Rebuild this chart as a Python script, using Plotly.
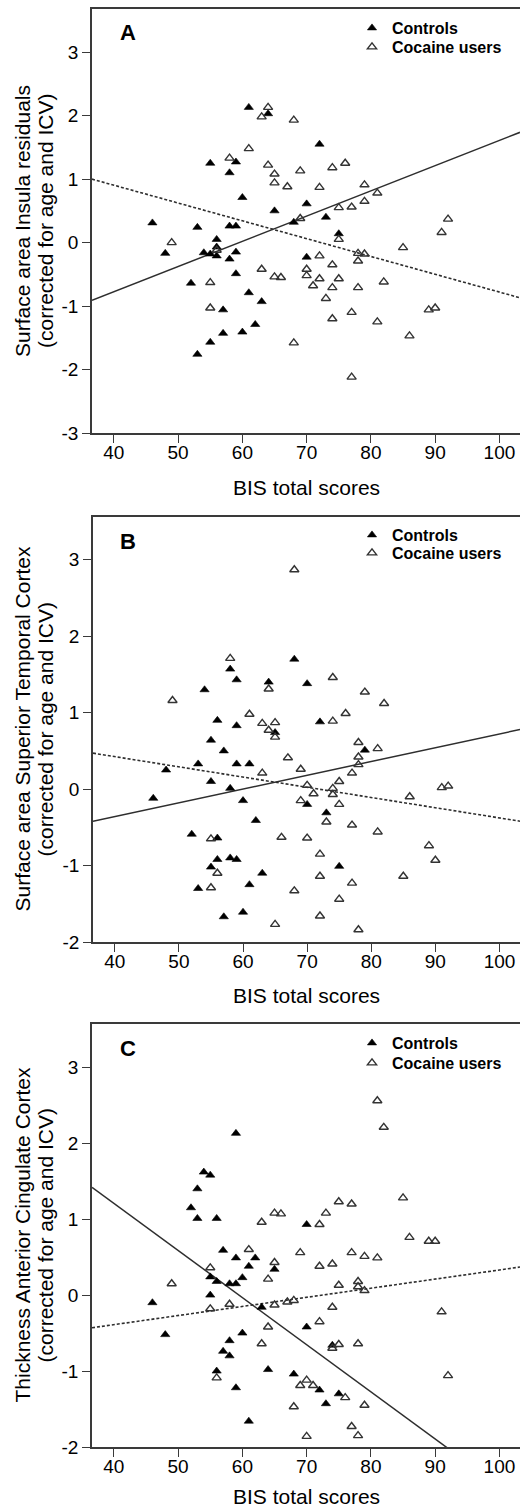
import plotly.graph_objects as go
import numpy as np

W, H = 520, 1510

# ---------------- data ----------------
# Panel A: Surface area Insula residuals
A_ctrl_x = [46, 48, 52, 53, 53, 54, 55, 55, 55, 56, 56, 56, 57, 57, 58, 58, 58, 59, 59, 59, 59,
            60, 60, 61, 61, 62, 63, 64, 65, 68, 70, 70, 72, 73, 75]
A_ctrl_y = [0.31, -0.17, -0.64, 0.24, -1.76, -0.16, 1.25, -0.18, -1.57, 0.05, -0.07, -0.21, -1.06,
            -1.43, 1.10, 0.26, -0.26, 1.27, 0.26, -0.15, -0.49, 0.71, -1.41, 2.13, -0.79, -1.29,
            -0.93, 2.03, 0.50, 0.32, 0.61, -0.23, 1.55, 0.40, 0.14]
A_coc_x = [49, 55, 55, 56, 58, 61, 63, 63, 64, 64, 65, 65, 65, 66, 67, 68, 68, 69, 69, 70, 70, 71,
           72, 72, 72, 73, 74, 74, 74, 74, 75, 75, 75, 76, 77, 77, 77, 78, 78, 78, 79, 79, 79, 81,
           81, 82, 85, 86, 89, 90, 91, 92]
A_coc_y = [0.00, -0.63, -1.03, -0.12, 1.33, 1.48, 1.98, -0.42, 2.13, 1.22, 1.08, 0.94, -0.54, -0.55,
           0.88, 1.93, -1.58, 1.13, 0.38, -0.42, -0.52, -0.68, 0.87, -0.21, -0.57, -0.88, 1.18,
           -0.35, -0.71, -1.20, 0.55, 0.05, -0.57, 1.25, 0.56, -1.10, -2.12, -0.17, -0.29, -0.71,
           0.91, 0.65, -0.18, 0.78, -1.25, -0.62, -0.08, -1.47, -1.06, -1.03, 0.16, 0.37]

# Panel B: Surface area Superior Temporal Cortex
B_ctrl_x = [46, 48, 52, 53, 53, 54, 55, 55, 55, 56, 56, 56, 57, 57, 58, 58, 58, 59, 59, 59, 59,
            60, 60, 61, 61, 62, 63, 64, 65, 68, 70, 70, 72, 73, 75, 79]
B_ctrl_y = [-0.12, 0.25, -0.59, 0.33, -1.30, 1.30, 0.64, 0.10, -1.02, 0.90, -0.64, -0.92, 0.50,
            -1.67, 1.57, 0.01, -0.90, 1.43, 0.83, 0.33, -0.92, -0.15, -1.61, 0.33, -1.25, -0.41,
            -1.10, 1.40, 0.74, 1.70, 1.38, -0.20, 0.88, -0.31, -1.01, 0.51]
B_coc_x = [49, 55, 55, 56, 58, 61, 63, 63, 64, 64, 65, 65, 65, 66, 67, 68, 68, 69, 69, 70, 70, 71,
           72, 72, 72, 73, 74, 74, 74, 74, 75, 75, 75, 76, 77, 77, 77, 78, 78, 78, 78, 79, 81, 81,
           82, 85, 86, 89, 90, 91, 92]
B_coc_y = [1.16, -0.65, -1.29, -1.10, 1.71, 0.98, 0.86, 0.21, 1.31, 0.77, 0.87, 0.68, -1.77, -0.63,
           0.41, 2.87, -1.33, 0.26, -0.15, 0.05, -0.64, -0.06, -0.85, -1.14, -1.66, -0.43, 1.46,
           0.89, 0.01, -0.07, 0.10, -0.20, -1.44, 0.99, 0.21, -0.47, -1.23, 0.61, 0.42, 0.32,
           -1.84, 1.27, 0.53, -0.56, 1.12, -1.14, -0.10, -0.74, -0.93, 0.02, 0.04]

# Panel C: Thickness Anterior Cingulate Cortex
C_ctrl_x = [46, 48, 52, 53, 53, 54, 55, 55, 55, 56, 56, 56, 57, 57, 58, 58, 58, 59, 59, 59, 59,
            60, 60, 61, 61, 62, 63, 64, 65, 68, 70, 70, 72, 73, 74, 75]
C_ctrl_y = [-0.10, -0.52, 1.15, 1.40, 1.01, 1.62, 1.58, 0.24, 0.00, 1.01, 0.18, -1.00, 0.59, -0.74,
            0.15, -0.60, -0.80, 2.13, 0.49, 0.15, -1.22, 0.23, -0.50, 0.38, -1.66, 0.49, -0.16,
            -0.98, 0.34, -1.04, 0.93, -0.42, -1.25, -1.43, -0.66, -1.30]
C_coc_x = [49, 55, 55, 56, 58, 61, 63, 63, 64, 64, 65, 65, 65, 66, 67, 68, 68, 69, 69, 70, 70, 71,
           72, 72, 72, 73, 74, 74, 74, 75, 75, 75, 76, 77, 77, 77, 78, 78, 78, 78, 79, 79, 79, 81,
           81, 82, 85, 86, 89, 90, 91, 92]
C_coc_y = [0.15, 0.36, -0.18, -1.09, -0.12, 0.60, 0.96, -0.64, 0.21, -0.42, 1.08, 0.43, -0.13, 1.07,
           -0.09, -0.07, -1.47, 0.56, -1.19, -1.12, -1.86, -1.19, 0.93, 0.38, -0.35, 1.08, 0.41,
           -0.16, -0.70, 1.23, 0.13, -0.65, -1.35, 1.20, 0.56, -1.73, 0.18, 0.11, -0.64, -1.85,
           0.51, 0.06, -1.45, 2.56, 0.49, 2.21, 1.28, 0.76, 0.71, 0.71, -0.22, -1.06]

# Regression lines: value of fit at BIS = 40 and BIS = 100
fit_x = [40, 100]
A_ctrl_fit = [-0.775, 1.61]
A_coc_fit = [0.904, -0.78]
B_ctrl_fit = [-0.359, 0.722]
B_coc_fit = [0.425, -0.377]
C_ctrl_fit = [1.209, -2.515]
C_coc_fit = [-0.389, 0.331]

x_ticks = [40, 50, 60, 70, 80, 90, 100]
x_ticklabels = ["40", "50", "60", "70", "80", "90", "100"]
A_yticks = [-3, -2, -1, 0, 1, 2, 3]
A_yticklabels = ["-3", "-2", "-1", "0", "1", "2", "3"]
BC_yticks = [-2, -1, 0, 1, 2, 3]
BC_yticklabels = ["-2", "-1", "0", "1", "2", "3"]

panel_letters = ["A", "B", "C"]
y_titles = [
    ("Surface area Insula residuals", "(corrected for age and ICV)"),
    ("Surface area Superior Temporal Cortex", "(corrected for age and ICV)"),
    ("Thickness Anterior Cingulate Cortex", "(corrected for age and ICV)"),
]
x_title = "BIS total scores"
group_names = ["Controls", "Cocaine users"]

# ---------------- layout geometry (pixels) ----------------
FONT = "Liberation Sans, Arial, sans-serif"
AX = "#3a3a3a"
LINE = "#2e2e2e"
XR = [36.6, 103.2]
panels = [
    dict(left=92, top=9, bottom=433, yr=[-3, 3.68], yt=(A_yticks, A_yticklabels),
         ctrl=(A_ctrl_x, A_ctrl_y), coc=(A_coc_x, A_coc_y), fits=(A_ctrl_fit, A_coc_fit),
         leg=(11, 30), xt=487),
    dict(left=93, top=517, bottom=942, yr=[-2, 3.56], yt=(BC_yticks, BC_yticklabels),
         ctrl=(B_ctrl_x, B_ctrl_y), coc=(B_coc_x, B_coc_y), fits=(B_ctrl_fit, B_coc_fit),
         leg=(518, 536), xt=995),
    dict(left=92, top=1024, bottom=1447, yr=[-2, 3.57], yt=(BC_yticks, BC_yticklabels),
         ctrl=(C_ctrl_x, C_ctrl_y), coc=(C_coc_x, C_coc_y), fits=(C_ctrl_fit, C_coc_fit),
         leg=(1026, 1046), xt=1496),
]


def fy(py):
    return 1 - py / H


def fx(px):
    return px / W


def extend(fit):
    slope = (fit[1] - fit[0]) / (fit_x[1] - fit_x[0])
    xs = np.array(XR)
    return xs, fit[0] + slope * (xs - fit_x[0])


fig = go.Figure()
annotations = []
TXT = dict(family=FONT, size=21, color="black")

for i, p in enumerate(panels):
    n = "" if i == 0 else str(i + 1)
    xa, ya = "x" + n, "y" + n
    lg1 = "legend" if i == 0 else "legend%d" % (2 * i + 1)
    lg2 = "legend%d" % (2 * i + 2)
    # fit lines
    xs, ys = extend(p["fits"][0])
    fig.add_trace(go.Scatter(x=xs, y=ys, mode="lines", xaxis=xa, yaxis=ya, showlegend=False,
                             line=dict(color=LINE, width=1.5), hoverinfo="skip"))
    xs, ys = extend(p["fits"][1])
    fig.add_trace(go.Scatter(x=xs, y=ys, mode="lines", xaxis=xa, yaxis=ya, showlegend=False,
                             line=dict(color=LINE, width=1.6, dash="3px,2px"), hoverinfo="skip"))
    # points
    fig.add_trace(go.Scatter(x=p["ctrl"][0], y=p["ctrl"][1], mode="markers", xaxis=xa, yaxis=ya,
                             name=group_names[0], legend=lg1,
                             marker=dict(symbol="triangle-up", size=8, color="black",
                                         line=dict(color="black", width=0.6))))
    fig.add_trace(go.Scatter(x=p["coc"][0], y=p["coc"][1], mode="markers", xaxis=xa, yaxis=ya,
                             name=group_names[1], legend=lg2,
                             marker=dict(symbol="triangle-up-open", size=8, color="#333333",
                                         line=dict(width=1.4))))

    ydom = [fy(p["bottom"]), fy(p["top"])]
    axis_common = dict(showgrid=False, zeroline=False, showline=True, linecolor=AX, linewidth=1.6,
                       ticks="outside", ticklen=8, tickwidth=1.4, tickcolor=AX,
                       ticklabelposition="outside",
                       tickfont=dict(family=FONT, size=19, color="black"), automargin=False)
    leg_common = dict(x=fx(352), xanchor="left", yanchor="top", bgcolor="rgba(0,0,0,0)",
                      borderwidth=0, font=dict(family=FONT, size=16, color="black", weight="bold"))
    fig.update_layout(**{
        "xaxis" + n: dict(domain=[fx(p["left"]), 1.0], range=XR, anchor=ya, tickvals=x_ticks,
                          ticktext=x_ticklabels, mirror=True, side="bottom",
                          ticklabelstandoff=-7, **axis_common),
        "yaxis" + n: dict(domain=ydom, range=p["yr"], anchor=xa, tickvals=p["yt"][0],
                          ticktext=p["yt"][1], mirror=False, side="left", **axis_common),
        lg1: dict(y=fy(p["leg"][0]), **leg_common),
        lg2: dict(y=fy(p["leg"][1]), **leg_common),
    })

    # panel letter
    annotations.append(dict(text="<b>%s</b>" % panel_letters[i], x=fx(128), y=fy(p["top"] + 24),
                            xref="paper", yref="paper", showarrow=False,
                            xanchor="center", yanchor="middle",
                            font=dict(family=FONT, size=22, color="black")))
    # x title
    annotations.append(dict(text=x_title, x=fx((p["left"] + W) / 2), y=fy(p["xt"]),
                            xref="paper", yref="paper", showarrow=False,
                            xanchor="center", yanchor="middle", font=TXT))
    # y titles (two lines)
    ymid = fy((p["top"] + p["bottom"]) / 2)
    for txt, cx in zip(y_titles[i], (22, 45)):
        annotations.append(dict(text=txt, x=fx(cx), y=ymid, xref="paper", yref="paper",
                                showarrow=False, textangle=-90,
                                xanchor="center", yanchor="middle", font=TXT))

fig.update_layout(width=W, height=H, margin=dict(l=0, r=0, t=0, b=0),
                  paper_bgcolor="white", plot_bgcolor="white", template="none",
                  annotations=annotations, font=dict(family=FONT))

fig.write_html("out.html", config={"displayModeBar": False},
               post_script="document.body.style.margin='0px';document.body.style.overflow='hidden';")
